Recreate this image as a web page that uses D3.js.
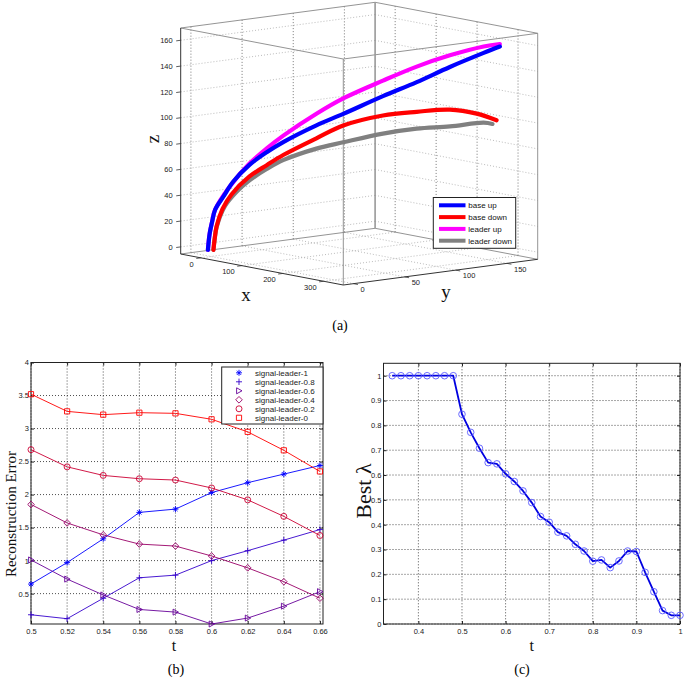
<!DOCTYPE html>
<html>
<head>
<meta charset="utf-8">
<script src="https://cdn.jsdelivr.net/npm/d3@7"></script>
<style>
  body { margin: 0; background: #fff; }
  svg { display: block; }
</style>
</head>
<body>
<div id="fig"></div>
<script>
// ---- panel (a): 3D trajectories (x, y, z) ----
const baseUpX = [0, 1.5, 4.3, 7.5, 16, 27, 44, 62, 80, 115, 143, 185, 220, 256, 291, 308];
const baseUpY = [-3, -2, -0.7, 1, 5.5, 11, 20, 30, 39, 57, 72, 94, 113, 131, 150, 159];
const baseUpZ = [0, 12, 21.5, 31, 41, 53, 66, 76, 84, 97, 106, 120, 131, 143, 154, 159];

const baseDownX = [6, 7, 9.1, 15.4, 25, 44, 62, 80, 115, 143, 185, 220, 256, 284, 305];
const baseDownY = [0, 0.7, 1.8, 5.1, 10, 20, 30, 39, 57, 72, 94, 113, 131, 146, 157];
const baseDownZ = [0, 8, 18, 31.7, 43, 57, 66, 74, 87, 97, 105, 108, 110, 107, 102];

const leaderUpX = [0, 1.5, 4.3, 7.5, 23, 44, 62, 80, 115, 143, 185, 220, 256, 291, 308];
const leaderUpY = [-3, -2, -0.7, 1, 9, 20, 30, 39, 57, 72, 94, 113, 131, 150, 159];
const leaderUpZ = [0, 12, 21.5, 31, 49, 67, 79, 89, 106, 118, 132, 143, 152, 159, 161];

const leaderDownX = [6, 7, 9.3, 18, 30, 44, 62, 80, 115, 143, 185, 220, 256, 291, 300];
const leaderDownY = [0, 0.7, 1.9, 6.5, 13, 20, 30, 39, 57, 72, 94, 113, 131, 150, 155];
const leaderDownZ = [0, 8, 18, 34, 45, 54, 63, 70, 79, 84, 91, 95, 97, 100, 99];

const trajNames = ["base up", "base down", "leader up", "leader down"];
const xTicks3 = [0, 100, 200, 300];
const yTicks3 = [0, 50, 100, 150];
const zTicks3 = [0, 20, 40, 60, 80, 100, 120, 140, 160];

// ---- panel (b): reconstruction error ----
const tB = [0.5, 0.52, 0.54, 0.56, 0.58, 0.6, 0.62, 0.64, 0.66];
const leader1  = [0.645, 0.97, 1.33, 1.73, 1.78, 2.03, 2.18, 2.31, 2.44];
const leader08 = [0.18, 0.12, 0.43, 0.74, 0.78, 1.0, 1.15, 1.31, 1.47];
const leader06 = [1.01, 0.72, 0.48, 0.26, 0.22, 0.04, 0.13, 0.31, 0.53];
const leader04 = [1.85, 1.57, 1.39, 1.25, 1.22, 1.07, 0.89, 0.68, 0.43];
const leader02 = [2.68, 2.42, 2.29, 2.24, 2.22, 2.10, 1.92, 1.67, 1.38];
const leader0  = [3.52, 3.26, 3.21, 3.24, 3.23, 3.14, 2.95, 2.67, 2.35];
const seriesNamesB = ["signal-leader-1", "signal-leader-0.8", "signal-leader-0.6",
                      "signal-leader-0.4", "signal-leader-0.2", "signal-leader-0"];
const xTicksB = [0.5, 0.52, 0.54, 0.56, 0.58, 0.6, 0.62, 0.64, 0.66];
const yTicksB = [0.5, 1, 1.5, 2, 2.5, 3, 3.5, 4];

// ---- panel (c): best lambda ----
const tC = [0.34, 0.36, 0.38, 0.4, 0.42, 0.44, 0.46, 0.48, 0.5, 0.52, 0.54, 0.56,
            0.58, 0.6, 0.62, 0.64, 0.66, 0.68, 0.7, 0.72, 0.74, 0.76, 0.78, 0.8,
            0.82, 0.84, 0.86, 0.88, 0.9, 0.92, 0.94, 0.96, 0.98, 1.0];
const bestLambda = [1, 1, 1, 1, 1, 1, 1, 1, 0.845, 0.772, 0.708, 0.65,
                    0.645, 0.605, 0.574, 0.536, 0.489, 0.433, 0.41, 0.37, 0.355, 0.321, 0.294, 0.253,
                    0.258, 0.227, 0.254, 0.294, 0.292, 0.208, 0.13, 0.054, 0.035, 0.035];
const xTicksC = [0.4, 0.5, 0.6, 0.7, 0.8, 0.9, 1];
const yTicksC = [0, 0.1, 0.2, 0.3, 0.4, 0.5, 0.6, 0.7, 0.8, 0.9, 1];

const SANS = "'Liberation Sans', Arial, sans-serif";
const SERIF = "'Liberation Serif', 'Times New Roman', serif";

const svg = d3.select("#fig").append("svg")
    .attr("width", 686)
    .attr("height", 682)
    .attr("viewBox", [0, 0, 686, 682]);

plot3d();
plotErrors();
plotLambda();

function plot3d() {
    // normalized positions along each axis, then an oblique projection onto the page
    const x3 = d3.scaleLinear().domain([-49, 348]).range([0, 1]);
    const y3 = d3.scaleLinear().domain([-10, 180]).range([0, 1]);
    const z3 = d3.scaleLinear().domain([-5.5, 169.5]).range([0, 1]);
    const origin = [180.7, 254], ex = [162.6, 31], ey = [194.4, -25.7], ez = [0, -226];
    const proj = (x, y, z) => {
        const a = x3(x), b = y3(y), c = z3(z);
        return [origin[0] + a * ex[0] + b * ey[0] + c * ez[0],
                origin[1] + a * ex[1] + b * ey[1] + c * ez[1]];
    };
    const [x0, x1] = x3.domain(), [y0, y1] = y3.domain(), [z0, z1] = z3.domain();

    const g = svg.append("g");
    const seg = (p, q, stroke, width, dash) => g.append("line")
        .attr("x1", p[0]).attr("y1", p[1]).attr("x2", q[0]).attr("y2", q[1])
        .attr("stroke", stroke).attr("stroke-width", width)
        .attr("stroke-dasharray", dash || null);

    // grid: floor, left wall (x = min), back wall (y = max)
    for (const x of xTicks3) {
        seg(proj(x, y0, z0), proj(x, y1, z0), "#aaa", 0.8, "1,2");
        seg(proj(x, y1, z0), proj(x, y1, z1), "#555", 0.8, "1,2");
    }
    for (const y of yTicks3) {
        seg(proj(x0, y, z0), proj(x1, y, z0), "#aaa", 0.8, "1,2");
        seg(proj(x0, y, z0), proj(x0, y, z1), "#555", 0.8, "1,2");
    }
    for (const z of zTicks3) {
        seg(proj(x0, y0, z), proj(x0, y1, z), "#aaa", 0.8, "1,2");
        seg(proj(x0, y1, z), proj(x1, y1, z), "#aaa", 0.8, "1,2");
    }

    // box edges
    const edges = [
        [[x0, y0, z0], [x0, y1, z0]], [[x0, y1, z0], [x1, y1, z0]],
        [[x0, y0, z1], [x1, y0, z1]], [[x1, y0, z1], [x1, y1, z1]],
        [[x0, y0, z1], [x0, y1, z1]], [[x0, y1, z1], [x1, y1, z1]],
        [[x1, y1, z0], [x1, y1, z1]], [[x1, y0, z0], [x1, y0, z1]]
    ];
    for (const [p, q] of edges) seg(proj(...p), proj(...q), "#888", 0.9);
    seg(proj(x0, y1, z0), proj(x0, y1, z1), "#999", 1.6);
    // axis lines
    seg(proj(x0, y0, z0), proj(x0, y0, z1), "#333", 1);
    seg(proj(x0, y0, z0), proj(x1, y0, z0), "#333", 1);
    seg(proj(x1, y0, z0), proj(x1, y1, z0), "#333", 1);

    // ticks + labels
    const tick = g.append("g").attr("font-family", SANS).attr("font-size", 7.5).attr("fill", "#222");
    for (const z of zTicks3) {
        const p = proj(x0, y0, z);
        seg(p, [p[0] - 4.5, p[1] + 0.6], "#333", 0.8);
        tick.append("text").attr("x", 172.7).attr("y", p[1] + 2.7)
            .attr("text-anchor", "end").text(z);
    }
    for (const x of xTicks3) {
        const p = proj(x, y0, z0);
        seg(p, [p[0] - 4.5, p[1] + 0.6], "#333", 0.8);
        tick.append("text").attr("x", p[0] - 7).attr("y", p[1] + 8.8)
            .attr("text-anchor", "end").text(x);
    }
    for (const y of yTicks3) {
        const p = proj(x1, y, z0);
        seg(p, [p[0] + 4.4, p[1] + 0.85], "#333", 0.8);
        tick.append("text").attr("x", p[0] + 7).attr("y", p[1] + 8.3)
            .attr("text-anchor", "start").text(y);
    }

    // axis titles
    const lab = g.append("g").attr("font-family", SERIF).attr("font-size", 19).attr("fill", "#111");
    lab.append("text").attr("x", 246).attr("y", 300.5).attr("text-anchor", "middle").text("x");
    lab.append("text").attr("x", 446).attr("y", 298).attr("text-anchor", "middle").text("y");
    lab.append("text").attr("transform", "translate(159,139) rotate(-90)")
        .attr("text-anchor", "middle").text("z");

    // trajectories
    const colors = {"base up": "#0000ff", "base down": "#ff0000", "leader up": "#ff00ff", "leader down": "#808080"};
    const traj = {
        "base up": d3.zip(baseUpX, baseUpY, baseUpZ),
        "base down": d3.zip(baseDownX, baseDownY, baseDownZ),
        "leader up": d3.zip(leaderUpX, leaderUpY, leaderUpZ),
        "leader down": d3.zip(leaderDownX, leaderDownY, leaderDownZ)
    };
    const line3 = d3.line().curve(d3.curveCatmullRom);
    for (const name of ["leader up", "leader down", "base up", "base down"]) {
        g.append("path")
            .attr("d", line3(traj[name].map(d => proj(...d))))
            .attr("fill", "none")
            .attr("stroke", colors[name])
            .attr("stroke-width", 4.2)
            .attr("stroke-linecap", "round")
            .attr("stroke-linejoin", "round");
    }

    // legend
    const lg = g.append("g");
    lg.append("rect").attr("x", 433.3).attr("y", 197.5).attr("width", 82.4).attr("height", 50.8)
        .attr("fill", "#fff").attr("stroke", "#222").attr("stroke-width", 1);
    trajNames.forEach((name, i) => {
        const yy = 205.3 + i * 11.8;
        lg.append("line").attr("x1", 439).attr("x2", 465.5).attr("y1", yy).attr("y2", yy)
            .attr("stroke", colors[name]).attr("stroke-width", 4);
        lg.append("text").attr("x", 468.3).attr("y", yy + 2.8)
            .attr("font-family", SANS).attr("font-size", 8).attr("fill", "#111").text(name);
    });

    svg.append("text").attr("x", 340).attr("y", 329.5).attr("text-anchor", "middle")
        .attr("font-family", SERIF).attr("font-size", 14).text("(a)");
}

function frame2d(g, x, y, xTicks, yTicks) {
    const [l, r] = x.range(), [b, t] = y.range();
    // dotted grid
    g.append("g").selectAll("line").data(xTicks).join("line")
        .attr("x1", d => x(d)).attr("x2", d => x(d)).attr("y1", t).attr("y2", b)
        .attr("stroke", "#222").attr("stroke-width", 0.8).attr("stroke-dasharray", "1,2");
    g.append("g").selectAll("line").data(yTicks).join("line")
        .attr("x1", l).attr("x2", r).attr("y1", d => y(d)).attr("y2", d => y(d))
        .attr("stroke", "#222").attr("stroke-width", 0.8).attr("stroke-dasharray", "1,2");

    const fmt = d => String(d);
    g.append("g").attr("transform", `translate(0,${b})`)
        .call(d3.axisBottom(x).tickValues(xTicks).tickFormat(fmt).tickSize(-3).tickPadding(4.5))
        .call(a => a.select(".domain").remove())
        .call(a => a.selectAll("text").attr("font-family", SANS).attr("font-size", 7.5).attr("fill", "#222"));
    g.append("g").attr("transform", `translate(0,${t})`)
        .call(d3.axisTop(x).tickValues(xTicks).tickFormat("").tickSize(-3))
        .call(a => a.select(".domain").remove());
    g.append("g").attr("transform", `translate(${l},0)`)
        .call(d3.axisLeft(y).tickValues(yTicks).tickFormat(fmt).tickSize(-3).tickPadding(2))
        .call(a => a.select(".domain").remove())
        .call(a => a.selectAll("text").attr("font-family", SANS).attr("font-size", 7.5).attr("fill", "#222"));
    g.append("g").attr("transform", `translate(${r},0)`)
        .call(d3.axisRight(y).tickValues(yTicks).tickFormat("").tickSize(-3))
        .call(a => a.select(".domain").remove());
    g.selectAll(".tick line").attr("stroke", "#222");

    g.append("rect").attr("x", l).attr("y", t).attr("width", r - l).attr("height", b - t)
        .attr("fill", "none").attr("stroke", "#222").attr("stroke-width", 1);
}

function markerPath(kind) {
    switch (kind) {
        case "star": return "M-3,0H3M0,-3V3M-2.1,-2.1L2.1,2.1M-2.1,2.1L2.1,-2.1";
        case "plus": return "M-3,0H3M0,-3.2V3.2";
        case "tri": return "M-2.4,-3L3,0L-2.4,3Z";
        case "diamond": return "M0,-3.3L3.3,0L0,3.3L-3.3,0Z";
        case "circle": return "M3,0A3,3,0,1,1,-3,0A3,3,0,1,1,3,0Z";
        default: return "M-2.6,-2.6H2.6V2.6H-2.6Z";
    }
}

function plotErrors() {
    const g = svg.append("g");
    const x = d3.scaleLinear().domain([0.5, 0.6617]).range([31, 323]);
    const y = d3.scaleLinear().domain([0.04, 4]).range([624, 362.5]);
    frame2d(g, x, y, xTicksB, yTicksB);

    const series = [leader1, leader08, leader06, leader04, leader02, leader0];
    const colors = ["#0000ff", "#3300cc", "#660099", "#990066", "#cc0033", "#ff0000"];
    const marks = ["star", "plus", "tri", "diamond", "circle", "square"];
    const line = d3.line().x(d => x(d[0])).y(d => y(d[1]));

    series.forEach((vals, i) => {
        const pts = d3.zip(tB, vals);
        g.append("path").attr("d", line(pts)).attr("fill", "none")
            .attr("stroke", colors[i]).attr("stroke-width", 0.9);
        g.append("g").selectAll("path").data(pts).join("path")
            .attr("transform", d => `translate(${x(d[0])},${y(d[1])})`)
            .attr("d", markerPath(marks[i]))
            .attr("fill", marks[i] === "star" ? colors[i] : "none")
            .attr("stroke", colors[i]).attr("stroke-width", 0.9);
    });

    // legend
    const lg = g.append("g");
    lg.append("rect").attr("x", 221.7).attr("y", 367).attr("width", 101.3).attr("height", 57)
        .attr("fill", "#fff").attr("stroke", "#222").attr("stroke-width", 1);
    seriesNamesB.forEach((name, i) => {
        const yy = 372.8 + i * 9;
        lg.append("path").attr("transform", `translate(239,${yy})`).attr("d", markerPath(marks[i]))
            .attr("fill", marks[i] === "star" ? colors[i] : "none")
            .attr("stroke", colors[i]).attr("stroke-width", 0.9);
        lg.append("text").attr("x", 255).attr("y", yy + 2.8)
            .attr("font-family", SANS).attr("font-size", 8).attr("fill", "#222").text(name);
    });

    g.append("text").attr("transform", "translate(15.5,514) rotate(-90)").attr("text-anchor", "middle")
        .attr("font-family", SERIF).attr("font-size", 15).attr("fill", "#111").text("Reconstruction Error");
    g.append("text").attr("x", 174).attr("y", 651).attr("text-anchor", "middle")
        .attr("font-family", SERIF).attr("font-size", 16).attr("fill", "#111").text("t");
    svg.append("text").attr("x", 176).attr("y", 674).attr("text-anchor", "middle")
        .attr("font-family", SERIF).attr("font-size", 14).text("(b)");
}

function plotLambda() {
    const g = svg.append("g");
    const x = d3.scaleLinear().domain([0.32, 1]).range([383.5, 680]);
    const y = d3.scaleLinear().domain([0, 1.05]).range([624, 363.3]);
    frame2d(g, x, y, xTicksC, yTicksC);

    const pts = d3.zip(tC, bestLambda);
    g.append("path")
        .attr("d", d3.line().x(d => x(d[0])).y(d => y(d[1]))(pts))
        .attr("fill", "none").attr("stroke", "#0000e0").attr("stroke-width", 1.8)
        .attr("stroke-linejoin", "round");
    g.append("g").selectAll("circle").data(pts).join("circle")
        .attr("cx", d => x(d[0])).attr("cy", d => y(d[1])).attr("r", 3.3)
        .attr("fill", "none").attr("stroke", "#5a5aff").attr("stroke-width", 0.9);

    g.append("text").attr("transform", "translate(371,491) rotate(-90)").attr("text-anchor", "middle")
        .attr("font-family", SERIF).attr("font-size", 22).attr("fill", "#111").text("Best λ");
    g.append("text").attr("x", 531.7).attr("y", 651).attr("text-anchor", "middle")
        .attr("font-family", SERIF).attr("font-size", 16).attr("fill", "#111").text("t");
    svg.append("text").attr("x", 522).attr("y", 674).attr("text-anchor", "middle")
        .attr("font-family", SERIF).attr("font-size", 14).text("(c)");
}
</script>
</body>
</html>
